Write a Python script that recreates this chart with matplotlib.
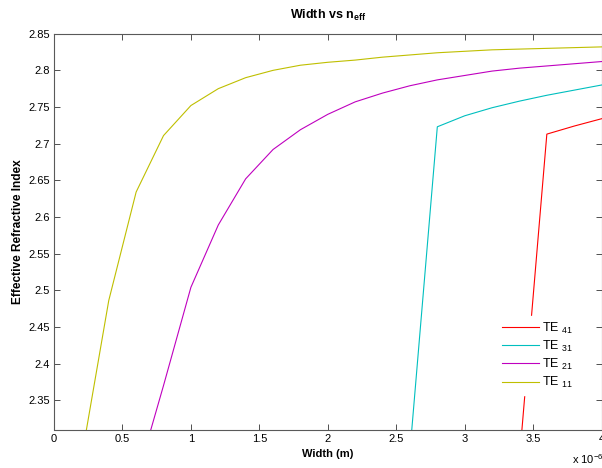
import matplotlib
matplotlib.use("Agg")
import matplotlib.pyplot as plt
from matplotlib.ticker import FuncFormatter, MultipleLocator

plt.rcParams.update(
    {
        "font.family": "Liberation Sans",
        "font.size": 8,
        "mathtext.fontset": "custom",
        "mathtext.rm": "Liberation Sans",
        "mathtext.it": "Liberation Sans:italic",
        "mathtext.bf": "Liberation Sans:bold",
    }
)

# widths in micrometres (plotted in metres)
w_te41 = [3.4, 3.6, 3.8, 4.0]
n_te41 = [2.27, 2.713, 2.724, 2.734]

w_te31 = [2.6, 2.8, 3.0, 3.2, 3.4, 3.6, 3.8, 4.0]
n_te31 = [2.28, 2.723, 2.738, 2.749, 2.758, 2.766, 2.773, 2.780]

w_te21 = [0.6, 0.8, 1.0, 1.2, 1.4, 1.6, 1.8, 2.0, 2.2, 2.4, 2.6, 2.8, 3.0, 3.2, 3.4, 3.6, 3.8, 4.0]
n_te21 = [2.24, 2.37, 2.504, 2.589, 2.652, 2.692, 2.719, 2.740, 2.757, 2.769,
          2.779, 2.787, 2.793, 2.799, 2.803, 2.806, 2.809, 2.812]

w_te11 = [0.2, 0.4, 0.6, 0.8, 1.0, 1.2, 1.4, 1.6, 1.8, 2.0, 2.2, 2.4, 2.6, 2.8,
          3.0, 3.2, 3.4, 3.6, 3.8, 4.0]
n_te11 = [2.27, 2.486, 2.634, 2.711, 2.752, 2.775, 2.790, 2.800, 2.807, 2.811,
          2.814, 2.818, 2.821, 2.824, 2.826, 2.828, 2.829, 2.830, 2.831, 2.832]

series = [
    (w_te41, n_te41, r"TE $_{41}$", (1.0, 0.0, 0.0)),
    (w_te31, n_te31, r"TE $_{31}$", (0.0, 0.75, 0.75)),
    (w_te21, n_te21, r"TE $_{21}$", (0.75, 0.0, 0.75)),
    (w_te11, n_te11, r"TE $_{11}$", (0.75, 0.75, 0.0)),
]

fig = plt.figure(figsize=(6.02, 4.68), dpi=100)
ax = fig.add_axes([54 / 602, 38.5 / 468, 547.6 / 602, 395.8 / 468])

for w, n, label, color in series:
    ax.plot([v * 1e-6 for v in w], n, color=color, linewidth=0.8, label=label)

ax.set_xlim(0, 4e-6)
ax.set_ylim(2.31, 2.85)
ax.xaxis.set_major_locator(MultipleLocator(0.5e-6))
ax.yaxis.set_major_locator(MultipleLocator(0.05))
ax.xaxis.set_major_formatter(FuncFormatter(lambda v, p: f"{v * 1e6:g}"))
ax.yaxis.set_major_formatter(FuncFormatter(lambda v, p: f"{v:g}"))
ax.tick_params(direction="in", top=True, right=True, length=4.3, width=0.6,
               labelsize=8, pad=3, color="0.2")
for s in ax.spines.values():
    s.set_color("0.35")
    s.set_linewidth(0.8)

ax.set_title(r"Width vs n$_{\mathbf{eff}}$", fontsize=9, fontweight="bold", pad=11)
ax.set_xlabel("Width (m)", fontsize=8, fontweight="bold", labelpad=4)
ax.set_ylabel("Effective Refractive Index", fontsize=8.6, fontweight="bold", labelpad=2.8)

fig.text(572 / 602, 4 / 468, r"x 10$^{-6}$", fontsize=8, ha="left", va="baseline")

leg = ax.legend(loc="lower left", bbox_to_anchor=(0.809, 0.087), borderaxespad=0,
                frameon=True, framealpha=1, facecolor="white", edgecolor="white",
                fancybox=False, fontsize=9, handlelength=2.96, handletextpad=0.24,
                labelspacing=0.24, borderpad=0.4)

fig.savefig("out.png", dpi=100)
